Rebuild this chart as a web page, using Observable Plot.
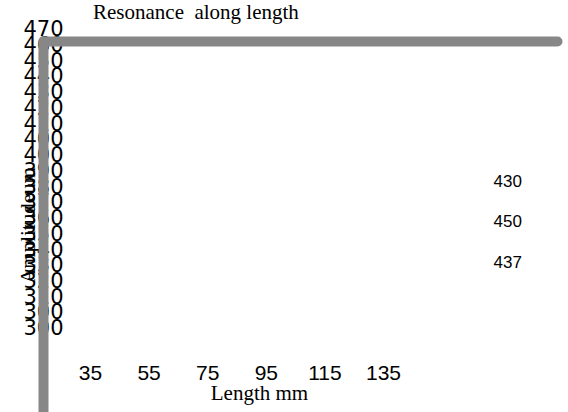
<!DOCTYPE html>
<html><head><meta charset="utf-8">
<script src="https://cdn.jsdelivr.net/npm/d3@7"></script>
<script src="https://cdn.jsdelivr.net/npm/@observablehq/plot@0.6"></script>
<style>
body{margin:0;background:#fff;overflow:hidden;}
#title{font-family:"Liberation Serif",serif;font-size:21px;line-height:24px;height:24px;padding-left:93px;white-space:pre;color:#000;}
#chart svg{overflow:visible;}
</style></head><body>
<div id="title"></div>
<div id="chart"></div>
<script>
// ---- data ----
const chartTitle = "Resonance  along length";
const xLabel = "Length mm";
const yLabel = "Amplitudeum";
const lengthTicks = [35, 55, 75, 95, 115, 135];
const amplitudeTickLabels = ["470","460","450","440","430","420","410","400","400",
  "390","380","370","360","350","340","330","320","310","300","300"];
const amplitudeValues = [430, 450, 437];

// ---- layout / style ----
const gray = "#878787";
const sans = "Liberation Sans, Arial, sans-serif";
const ySans = "DejaVu Sans, sans-serif";
const serif = "Liberation Serif, Times New Roman, serif";

document.getElementById("title").textContent = chartTitle;

const yIdx = d3.range(amplitudeTickLabels.length);

const plot = Plot.plot({
  width: 568,
  height: 388,
  marginLeft: 43,
  marginTop: 17,
  marginRight: 6,
  marginBottom: 47,
  style: {background: "transparent", color: "#000", overflow: "visible"},
  x: {domain: [35, 135], range: [90, 383]},
  y: {domain: [0, amplitudeTickLabels.length - 1], range: [5, 304]},
  marks: [
    Plot.axisY({ticks: yIdx, tickFormat: i => amplitudeTickLabels[i], tickSize: 0, tickPadding: 0,
      textAnchor: "middle", fontSize: 21, fontFamily: ySans, label: null}),
    Plot.axisX({ticks: lengthTicks, tickFormat: d => String(d), tickSize: 0, tickPadding: 0,
      fontSize: 21, fontFamily: sans, label: null}),
    Plot.text([yLabel], {text: d => d, frameAnchor: "left", lineAnchor: "middle", textAnchor: "middle",
      rotate: -90, dx: -15, dy: 22, fontSize: 21, fontFamily: serif, fill: "#000"}),
    Plot.text([xLabel], {text: d => d, frameAnchor: "bottom-left", lineAnchor: "middle", textAnchor: "middle",
      dx: 216, dy: 28, fontSize: 21, fontFamily: serif, fill: "#000"}),
    ...amplitudeValues.map((v, i) => Plot.text([v], {text: d => String(d), frameAnchor: "top-right",
      lineAnchor: "middle", textAnchor: "start", dx: -69, dy: 140 + i * 40.5,
      fontSize: 17, fontFamily: sans, fill: "#000"})),
    Plot.frame({anchor: "top", stroke: gray, strokeWidth: 10, strokeLinecap: "round", insetRight: 5}),
    Plot.frame({anchor: "left", stroke: gray, strokeWidth: 10, strokeLinecap: "round", insetBottom: -60})
  ]
});
document.getElementById("chart").appendChild(plot);
</script>
</body></html>
